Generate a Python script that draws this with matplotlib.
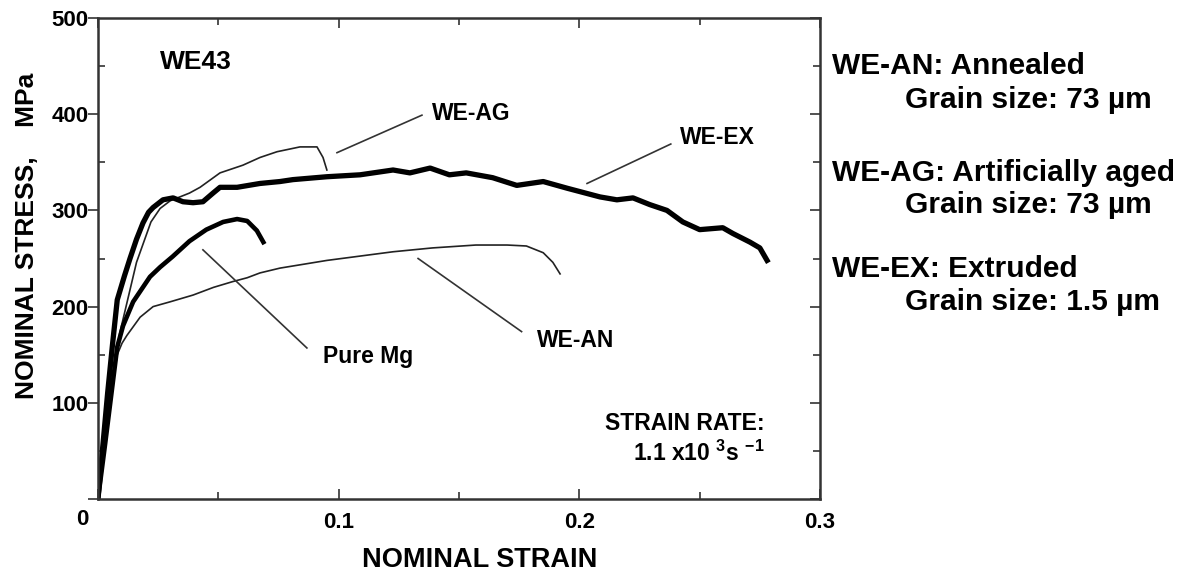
import matplotlib
matplotlib.use("Agg")
from matplotlib import pyplot as plt
import matplotlib.lines as mlines

plt.rcParams['font.family'] = ['Liberation Sans', 'DejaVu Sans']
plt.rcParams['font.weight'] = 'bold'
plt.rcParams['mathtext.fontset'] = 'custom'
plt.rcParams['mathtext.rm'] = 'Liberation Sans:bold'
plt.rcParams['mathtext.bf'] = 'Liberation Sans:bold'
plt.rcParams['mathtext.default'] = 'bf'

# curves (strain, MPa)
ex_strain = [0, 0.002, 0.004, 0.006, 0.008, 0.011, 0.0133, 0.016, 0.0187, 0.021, 0.0229, 0.027,
             0.0312, 0.0353, 0.0395, 0.0436, 0.0478, 0.0507, 0.0578, 0.0673, 0.0756, 0.081,
             0.0951, 0.1089, 0.1226, 0.1296, 0.138, 0.146, 0.153, 0.164, 0.174, 0.185, 0.195,
             0.2086, 0.2156, 0.2223, 0.2293, 0.2364, 0.243, 0.25, 0.2596, 0.2638, 0.2709,
             0.275, 0.278]
ex_stress = [0, 55, 110, 160, 207, 232, 250, 270, 287, 298, 303, 311,
             313, 309, 308, 309, 318, 324, 324, 328, 330, 332,
             335, 337, 342, 339, 344, 337, 339, 334, 326, 330, 323,
             314, 311, 313, 306, 300, 288, 280, 282, 276, 267,
             261, 248]

ag_strain = [0, 0.003, 0.006, 0.009, 0.016, 0.022, 0.0258, 0.030, 0.034, 0.038, 0.0424, 0.0507,
             0.0602, 0.0673, 0.0744, 0.0839, 0.091, 0.0935, 0.0951]
ag_stress = [0, 58, 115, 172, 246, 288, 302, 310, 314, 318, 324, 339,
             347, 355, 361, 366, 366, 355, 342]

an_strain = [0, 0.003, 0.006, 0.008, 0.010, 0.012, 0.0175, 0.0229, 0.030, 0.0395, 0.048, 0.056,
             0.062, 0.0673, 0.0756, 0.0951, 0.1226, 0.139, 0.157, 0.170, 0.178, 0.185, 0.189, 0.192]
an_stress = [0, 60, 118, 150, 162, 170, 189, 200, 205, 212, 220, 226,
             230, 235, 240, 248, 257, 261, 264, 264, 263, 256, 246, 234]

mg_strain = [0, 0.003, 0.006, 0.008, 0.0104, 0.0146, 0.0216, 0.0258, 0.031, 0.038, 0.045, 0.052,
             0.0578, 0.062, 0.066, 0.0687]
mg_stress = [0, 58, 118, 158, 180, 205, 231, 241, 252, 268, 280, 288,
             291, 289, 279, 267]

# labels: text, label anchor (left, middle), leader start, leader end
labels = ["WE-AG", "WE-EX", "Pure Mg", "WE-AN"]
label_pos = [(0.1388, 401), (0.2418, 376), (0.0935, 148), (0.1824, 165)]
leader_from = [(0.0993, 360), (0.2032, 328), (0.0436, 259), (0.133, 250)]
leader_to = [(0.1346, 399), (0.238, 369), (0.0868, 157), (0.176, 174)]

side_notes = ["WE-AN: Annealed", "Grain size: 73 µm",
              "WE-AG: Artificially aged", "Grain size: 73 µm",
              "WE-EX: Extruded", "Grain size: 1.5 µm"]

fig = plt.figure(figsize=(11.88, 5.76), dpi=100)
ax = fig.add_axes([98/1188, 1-499/576, (820-98)/1188, (499-18)/576])

ax.plot(an_strain, an_stress, color='#222222', lw=1.2)
ax.plot(ag_strain, ag_stress, color='#222222', lw=1.2)
ax.plot(ex_strain, ex_stress, color='black', lw=3.8, solid_joinstyle='round')
ax.plot(mg_strain, mg_stress, color='black', lw=3.3, solid_joinstyle='round')

for name, p, a, b in zip(labels, label_pos, leader_from, leader_to):
    ax.plot([a[0], b[0]], [a[1], b[1]], color='#333333', lw=1.2)
    ax.text(p[0], p[1], name, fontsize=16.5, ha='left', va='center')

ax.text(0.0258, 454, "WE43", fontsize=19, ha='left', va='center')
ax.text(0.277, 79, "STRAIN RATE:", fontsize=16.5, ha='right', va='center')
ax.text(0.277, 47, "1.1 x10 $^{3}$s $^{-1}$", fontsize=16.5, ha='right', va='center')

ax.set_xlim(0, 0.3)
ax.set_ylim(0, 500)
ax.set_xticks([0, 0.1, 0.2, 0.3])
ax.set_xticks([0.05, 0.15, 0.25], minor=True)
ax.set_yticks([0, 100, 200, 300, 400, 500])
ax.set_yticks([50, 150, 250, 350, 450], minor=True)
ax.set_xticklabels(['', '0.1', '0.2', '0.3'])
ax.set_yticklabels(['', '100', '200', '300', '400', '500'])
ax.tick_params(which='both', direction='in', top=True, right=True, width=1.2,
               color='#333333', labelsize=16)
ax.tick_params(which='major', length=7)
ax.tick_params(which='minor', length=5)
ax.tick_params(axis='x', pad=9)
ax.tick_params(axis='y', pad=7)
for t in ax.yaxis.get_major_ticks():
    t.tick1line.set_marker(mlines.TICKLEFT)
for s in ax.spines.values():
    s.set_linewidth(1.8)
    s.set_color('#333333')

ax.annotate("0", (0, 0), xytext=(-11.5, -15), textcoords='offset points',
            ha='center', va='center', fontsize=16)

fig.text(480/1188, 1-560/576, "NOMINAL STRAIN", fontsize=19.5, ha='center', va='center')
fig.text(27/1188, 1-236/576, "NOMINAL STRESS,    MPa", fontsize=19, rotation=90,
         ha='center', va='center')

ys = [66, 100, 173, 205, 269, 302]
for i, (txt, y) in enumerate(zip(side_notes, ys)):
    x = 832 if i % 2 == 0 else 905
    fig.text(x/1188, 1-y/576, txt, fontsize=21.5, ha='left', va='center')

fig.savefig("out.png", dpi=100)
